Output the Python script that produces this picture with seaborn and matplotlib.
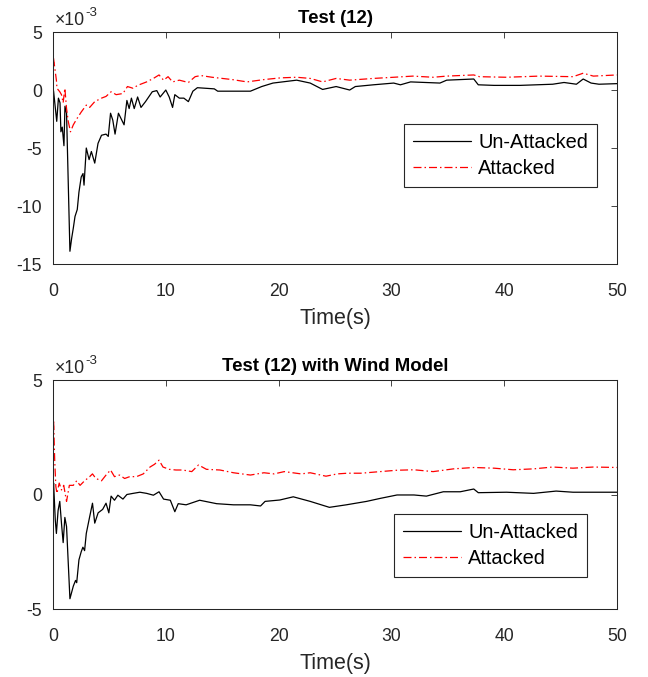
import numpy as np
import seaborn as sns
import matplotlib
matplotlib.use("Agg")
import matplotlib.pyplot as plt
from matplotlib.ticker import FuncFormatter, MultipleLocator

# 数据 (单位 1e-3, 从图上读取)
# Test (12)
t_top_un = [0, 0.05, 0.33, 0.48, 0.62, 0.7, 0.82, 0.97, 1.06, 1.2,
            1.5, 1.65, 1.8, 1.95, 2.15, 2.3, 2.5, 2.66, 2.75, 2.95,
            3.2, 3.4, 3.7, 3.99, 4.3, 4.7, 4.9, 5.1, 5.3, 5.5,
            5.8, 6.1, 6.3, 6.55, 6.75, 6.95, 7.2, 7.5, 7.8, 8.2,
            8.8, 9.2, 9.5, 10.0, 10.3, 10.6, 10.8, 11.2, 11.6, 12.0,
            12.4, 12.8, 14.3, 14.6, 17.0, 17.5, 18.5, 19.5, 21.6, 22.8,
            23.9, 25.1, 26.3, 26.8, 28.4, 30.2, 30.8, 31.7, 34.3, 34.9,
            37.3, 37.7, 39.1, 41.4, 44.3, 45.3, 46.4, 47.0, 47.7, 48.4, 50]
v_top_un = [0.15, -0.1, -2.7, -0.7, -1.1, -3.6, -3.2, -4.8, -1.4, -2.0,
            -13.9, -12.8, -11.9, -10.9, -10.3, -8.8, -7.5, -7.2, -8.2, -5.0,
            -6.0, -5.3, -6.3, -4.6, -3.9, -3.8, -4.0, -2.0, -2.6, -3.8,
            -2.0, -2.6, -3.0, -0.9, -1.6, -0.7, -1.6, -0.6, -1.5, -1.0,
            -0.15, -0.05, -0.6, 0.0, -0.6, -1.5, -0.4, -0.7, -0.7, -1.0,
            -0.1, 0.2, 0.1, -0.1, -0.1, -0.1, 0.3, 0.6, 0.85, 0.6,
            0.05, 0.3, 0.0, 0.3, 0.45, 0.6, 0.45, 0.7, 0.6, 0.85,
            0.95, 0.45, 0.4, 0.4, 0.5, 0.65, 0.5, 0.95, 0.6, 0.5, 0.55]
t_top_att = [0, 0.05, 0.3, 0.35, 0.6, 0.75, 0.9, 1.05, 1.2, 1.35,
             1.55, 1.8, 2.1, 2.5, 2.95, 3.25, 3.7, 4.3, 4.7, 5.15,
             5.6, 6.2, 6.6, 7.1, 7.5, 8.3, 8.9, 9.4, 9.8, 10.2,
             10.6, 11.2, 12.0, 12.6, 13.1, 14.1, 15.9, 17.2, 18.7, 20.2,
             21.6, 22.8, 23.9, 25.1, 26.3, 28.4, 30.2, 31.9, 33.7, 34.9,
             37.3, 37.8, 40.2, 43.1, 46.1, 47.0, 47.9, 50]
v_top_att = [0, 2.7, 0.85, 0.15, -0.15, -0.4, -1.1, 0.15, -1.6, -2.7,
             -3.6, -3.0, -2.5, -1.9, -1.3, -1.5, -1.0, -0.7, -0.55, -0.15,
             -0.4, -0.3, 0.3, 0.15, 0.4, 0.7, 1.0, 1.3, 0.85, 1.15,
             0.7, 0.85, 0.65, 1.15, 1.25, 1.1, 0.9, 0.7, 0.9, 1.05,
             1.1, 1.0, 0.7, 1.0, 0.85, 1.0, 1.1, 1.2, 1.1, 1.2,
             1.3, 1.15, 1.1, 1.2, 1.15, 1.45, 1.2, 1.3]

# Test (12) with Wind Model
t_bot_un = [0, 0.05, 0.2, 0.3, 0.45, 0.6, 0.75, 0.9, 1.05, 1.2,
            1.5, 1.8, 2.0, 2.1, 2.3, 2.5, 2.65, 2.8, 2.95, 3.25,
            3.5, 3.7, 4.0, 4.4, 4.7, 4.95, 5.15, 5.45, 5.75, 6.2,
            6.55, 7.1, 7.7, 8.3, 8.9, 9.4, 9.8, 10.4, 10.8, 11.1,
            11.8, 13.0, 14.5, 16.0, 17.5, 18.4, 18.8, 20.1, 21.3, 22.8,
            24.5, 26.0, 27.8, 29.0, 30.5, 32.0, 33.1, 34.6, 36.1, 37.3,
            37.7, 40.2, 42.6, 44.6, 46.1, 50]
v_bot_un = [0.05, 0.5, -1.1, -1.7, -0.7, -0.3, -1.25, -2.1, -1.0, -1.4,
            -4.55, -4.0, -3.75, -3.85, -2.85, -2.5, -2.3, -2.45, -1.7, -0.97,
            -0.38, -1.25, -0.8, -0.65, -0.38, -0.8, -0.07, -0.25, -0.03, -0.2,
            0.0, 0.05, 0.1, 0.05, -0.03, 0.12, -0.2, -0.25, -0.75, -0.4,
            -0.45, -0.25, -0.4, -0.45, -0.45, -0.5, -0.3, -0.24, -0.1, -0.3,
            -0.56, -0.45, -0.3, -0.17, -0.02, -0.02, -0.07, 0.12, 0.12, 0.24,
            0.08, 0.1, 0.05, 0.15, 0.1, 0.1]
t_bot_att = [0, 0.05, 0.15, 0.25, 0.35, 0.55, 0.75, 0.95, 1.2, 1.45,
             1.8, 2.1, 2.4, 2.8, 3.25, 3.5, 3.8, 4.3, 4.7, 5.1,
             5.45, 5.9, 6.35, 6.8, 7.4, 8.0, 8.6, 9.0, 9.4, 9.75,
             10.3, 10.9, 11.5, 12.3, 12.9, 13.6, 14.8, 16.0, 17.5, 18.7,
             19.6, 20.5, 22.0, 22.8, 24.2, 25.2, 26.1, 27.3, 29.0, 30.5,
             32.0, 33.7, 35.5, 37.3, 39.1, 40.8, 42.6, 44.3, 46.1, 47.9, 50]
v_bot_att = [0.63, 3.25, 1.5, 0.35, 0.05, 0.5, 0.2, 0.4, -0.3, 0.4,
             0.4, 0.6, 0.4, 0.6, 0.78, 0.9, 0.7, 0.6, 0.85, 1.07,
             0.78, 0.85, 0.7, 0.78, 0.78, 0.9, 1.2, 1.32, 1.5, 1.2,
             1.1, 1.07, 1.07, 1.0, 1.29, 1.1, 1.07, 0.95, 0.85, 0.95,
             0.9, 1.0, 0.9, 0.95, 0.8, 0.9, 0.93, 0.93, 1.0, 1.06,
             1.08, 1.0, 1.12, 1.18, 1.15, 1.08, 1.12, 1.2, 1.15, 1.2, 1.18]

series_names = ["Un-Attacked", "Attacked"]
titles = ["Test (12)", "Test (12) with Wind Model"]
x_ticks = [0, 10, 20, 30, 40, 50]

# 样式 (仿 MATLAB)
sns.set_style("white")
plt.rcParams["font.family"] = ["Liberation Sans", "DejaVu Sans"]
plt.rcParams["axes.unicode_minus"] = False

GRAY = "#262626"
DASHDOT = (0, (6.4, 2.4, 1.2, 2.4))
SCALE = 1e-3


def draw_panel(ax, t_un, v_un, t_att, v_att, ylim, ystep, title, leg_anchor):
    """画一个子图: 黑色实线 + 红色点划线"""
    sns.lineplot(x=t_un, y=np.array(v_un) * SCALE, ax=ax, color="black",
                 linewidth=0.9, label=series_names[0], estimator=None, sort=False)
    sns.lineplot(x=t_att, y=np.array(v_att) * SCALE, ax=ax, color="red",
                 linewidth=0.9, linestyle=DASHDOT, label=series_names[1],
                 estimator=None, sort=False)

    ax.set_xlim(0, 50)
    ax.set_ylim(ylim[0] * SCALE, ylim[1] * SCALE)
    ax.set_xticks(x_ticks)
    ax.yaxis.set_major_locator(MultipleLocator(ystep * SCALE))
    # 刻度用 1e-3 为单位, 普通连字符负号
    ax.yaxis.set_major_formatter(FuncFormatter(lambda v, p: f"{int(round(v / SCALE))}"))

    # 左上角 ×10^-3 标记
    base = ax.text(0.004, 1.014, "×10", transform=ax.transAxes, fontsize=12.7,
                   color=GRAY, ha="left", va="bottom")
    ax.annotate("-3", xy=(1.0, 0.55), xycoords=base, fontsize=9.5, color=GRAY,
                ha="left", va="bottom")

    ax.tick_params(direction="in", length=4, width=0.6, top=True, right=True,
                   labelsize=12.7, colors=GRAY)
    ax.tick_params(axis="x", pad=13.5)
    ax.tick_params(axis="y", pad=8)
    for s in ax.spines.values():
        s.set_color(GRAY)
        s.set_linewidth(0.75)

    ax.set_xlabel("Time(s)", fontsize=15.5, color=GRAY, labelpad=6)
    ax.set_ylabel("")
    ax.set_title(title, fontsize=13.4, fontweight="bold", pad=6.3, color="black")

    leg = ax.legend(loc="upper right", bbox_to_anchor=leg_anchor, frameon=True,
                    fancybox=False, edgecolor=GRAY, framealpha=1, fontsize=14.4,
                    handlelength=2.9, handletextpad=0.35, labelspacing=0.35,
                    borderpad=0.45, borderaxespad=0)
    leg.get_frame().set_linewidth(0.8)
    for txt in leg.get_texts():
        txt.set_color("black")


fig = plt.figure(figsize=(6.48, 6.77), dpi=100)
ax1 = fig.add_axes([0.0818, 0.610, 0.8704, 0.3427])
ax2 = fig.add_axes([0.0818, 0.1004, 0.8704, 0.3383])

draw_panel(ax1, t_top_un, v_top_un, t_top_att, v_top_att, (-15, 5), 5, titles[0], (0.965, 0.603))
draw_panel(ax2, t_bot_un, v_bot_un, t_bot_att, v_bot_att, (-5, 5), 5, titles[1], (0.947, 0.415))

fig.savefig("out.png", dpi=100)
